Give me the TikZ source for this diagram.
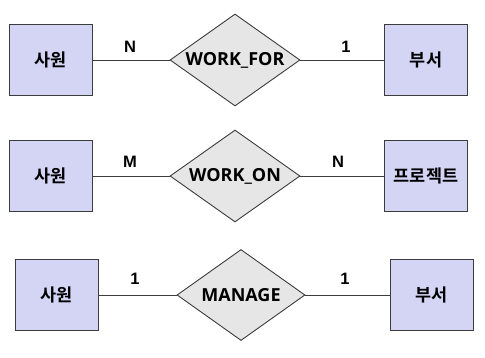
\documentclass[tikz,border=0pt]{standalone}
\usepackage{fontspec}
\usetikzlibrary{shapes.geometric}
\newfontfamily\kofont{Noto Sans CJK KR Bold}
\newfontfamily\latfont{Open Sans}[BoldFont={Open Sans Bold}]
\newfontfamily\labfont{Liberation Sans}
\definecolor{entfill}{RGB}{212,212,244}
\definecolor{relfill}{RGB}{230,230,230}
\definecolor{edge}{RGB}{60,60,60}
\tikzset{
  entity/.style={draw=edge, line width=0.9pt, fill=entfill, minimum width=83pt, minimum height=71pt, inner sep=0pt, font=\kofont\fontsize{17.5}{20}\selectfont},
  rel/.style={draw=edge, line width=0.9pt, fill=relfill, diamond, minimum width=130pt, minimum height=92pt, inner sep=0pt},
  reltext/.style={font=\latfont\bfseries\fontsize{18}{21}\selectfont, inner sep=0pt},
  card/.style={font=\labfont\bfseries\fontsize{16.5}{18}\selectfont, inner sep=0pt},
  conn/.style={draw=edge, line width=0.9pt}
}
\begin{document}
\begin{tikzpicture}[x=1pt,y=-1pt]
\useasboundingbox[fill=white] (0,0) rectangle (485,357);
% row 1
\node[entity] (e1) at (50.5,60) {사원};
\node[rel] (r1) at (235,60) {};
\node[reltext] (t1) at (r1.center) {WORK\_FOR};
\node[entity] (e2) at (426,60) {부서};
\draw[conn] (e1) -- (r1);
\draw[conn] (r1) -- (e2);
\node[card] (c1) at (130,47) {N};
\node[card] (c2) at (346,47) {1};
% row 2
\node[entity] (e3) at (50.5,176) {사원};
\node[rel] (r2) at (235,176) {};
\node[reltext] (t2) at (r2.center) {WORK\_ON};
\node[entity] (e4) at (426,176) {프로젝트};
\draw[conn] (e3) -- (r2);
\draw[conn] (r2) -- (e4);
\node[card] (c3) at (130,162) {M};
\node[card] (c4) at (338,162) {N};
% row 3
\node[entity] (e5) at (56.5,295) {사원};
\node[rel, minimum width=128pt, minimum height=91pt] (r3) at (241,295) {};
\node[reltext] (t3) at (r3.center) {MANAGE};
\node[entity] (e6) at (431.5,295) {부서};
\draw[conn] (e5) -- (r3);
\draw[conn] (r3) -- (e6);
\node[card] (c5) at (135,279) {1};
\node[card] (c6) at (345,279) {1};
\end{tikzpicture}
\end{document}
